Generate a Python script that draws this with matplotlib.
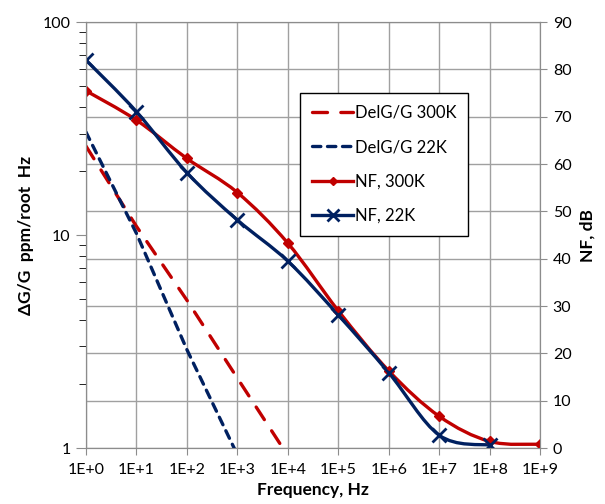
import numpy as np
import matplotlib
matplotlib.use("Agg")
import matplotlib.pyplot as plt
from matplotlib.path import Path
from matplotlib.patches import PathPatch
from matplotlib.lines import Line2D

# ---- data ----
decades = [1e0, 1e1, 1e2, 1e3, 1e4, 1e5, 1e6, 1e7, 1e8, 1e9]
x_tick_labels = ["1E+0", "1E+1", "1E+2", "1E+3", "1E+4",
                 "1E+5", "1E+6", "1E+7", "1E+8", "1E+9"]

delg_300k_freq = [1e0, 1e1, 1e2, 1e3, 1e4]
delg_300k = [26.2, 11.0, 4.95, 2.13, 0.92]

delg_22k_freq = [1e0, 1e1, 1e2, 1e3]
delg_22k = [30.5, 10.2, 2.9, 0.93]

nf_300k_freq = [1e0, 1e1, 1e2, 1e3, 1e4, 1e5, 1e6, 1e7, 1e8, 1e9]
nf_300k = [75.5, 69.3, 61.2, 54.0, 43.3, 29.0, 16.3, 6.7, 1.4, 0.8]

nf_22k_freq = [1e0, 1e1, 1e2, 1e3, 1e4, 1e5, 1e6, 1e7, 1e8]
nf_22k = [82.0, 71.1, 58.2, 48.2, 39.5, 28.1, 15.9, 2.7, 0.6]

left_ticks = [1, 10, 100]
right_ticks = [0, 10, 20, 30, 40, 50, 60, 70, 80, 90]

RED = "#C00000"
BLUE = "#002060"
GRID = "#a0a0a0"
SPINE = "#8c8c8c"

plt.rcParams["font.family"] = ["Lato", "DejaVu Sans"]
plt.rcParams["font.size"] = 11


def smooth_path(freqs, values):
    # Excel-like smoothed line: Catmull-Rom style Bezier in log-frequency space
    pts = np.column_stack([np.log10(freqs), np.asarray(values, float)])
    n = len(pts)
    verts = [pts[0]]
    codes = [Path.MOVETO]
    for i in range(n - 1):
        p0 = pts[max(i - 1, 0)]
        p1 = pts[i]
        p2 = pts[i + 1]
        p3 = pts[min(i + 2, n - 1)]
        verts += [p1 + (p2 - p0) / 6, p2 - (p3 - p1) / 6, p2]
        codes += [Path.CURVE4] * 3
    verts = np.array(verts)
    verts[:, 0] = 10 ** verts[:, 0]
    return Path(verts, codes)


fig = plt.figure(figsize=(6.05, 5.04), dpi=100)
ax2 = fig.add_axes([0.142, 0.111, 0.751, 0.845])
ax = ax2.twinx()  # left log axis drawn on top (dashed lines)

# right axis: NF
ax2.set_xscale("log")
ax2.set_xlim(1e0, 1e9)
ax2.set_ylim(0, 90)
ax2.set_yticks(right_ticks)
ax2.yaxis.tick_right()
ax2.yaxis.set_label_position("right")
ax2.set_axisbelow(True)
ax2.grid(axis="y", color=GRID, lw=1.0)
for d in decades:
    ax2.axvline(d, color=GRID, lw=1.0, zorder=0.5)

for freqs, vals, col in [(nf_300k_freq, nf_300k, RED), (nf_22k_freq, nf_22k, BLUE)]:
    ax2.add_patch(PathPatch(smooth_path(freqs, vals), fill=False, edgecolor=col,
                            lw=2.4, capstyle="round", joinstyle="round", zorder=3))
ax2.plot(nf_300k_freq, nf_300k, ls="none", marker="D", ms=5, color=RED, zorder=4)
ax2.plot(nf_22k_freq, nf_22k, ls="none", marker="x", ms=10, mew=2, color=BLUE, zorder=4)

# left axis: DelG/G
ax.set_yscale("log")
ax.set_ylim(1, 100)
ax.set_xlim(1e0, 1e9)
ax.yaxis.tick_left()
ax.yaxis.set_label_position("left")
ax.set_yticks(left_ticks)
ax.set_yticklabels([str(t) for t in left_ticks])
ax.plot(delg_300k_freq, delg_300k, color=RED, lw=2.4, dashes=(4.5, 4), dash_capstyle="round")
ax.plot(delg_22k_freq, delg_22k, color=BLUE, lw=2.4, dashes=(2.5, 2), dash_capstyle="round")

ax2.set_xticks(decades)
ax2.set_xticklabels(x_tick_labels)
ax2.xaxis.set_minor_locator(matplotlib.ticker.NullLocator())

for a in (ax, ax2):
    for s in a.spines.values():
        s.set_color(SPINE)
    a.tick_params(colors=SPINE, labelcolor="black", labelsize=11.5)
ax.tick_params(axis="y", which="major", length=7, pad=4)
ax.tick_params(axis="y", which="minor", length=5)
ax2.tick_params(axis="y", length=5, pad=4)
ax2.tick_params(axis="x", length=5, pad=6)

ax.set_ylabel("\u0394G/G  ppm/root  Hz", fontweight="bold", fontsize=12.5, labelpad=6)
ax2.set_ylabel("NF, dB", fontweight="bold", fontsize=12.5, labelpad=6)
ax2.set_xlabel("Frequency, Hz", fontweight="bold", fontsize=12.5, labelpad=3)

handles = [
    Line2D([], [], color=RED, lw=2.4, dashes=(4.5, 4), dash_capstyle="round"),
    Line2D([], [], color=BLUE, lw=2.4, dashes=(2.5, 2), dash_capstyle="round"),
    Line2D([], [], color=RED, lw=2.4, marker="D", ms=4),
    Line2D([], [], color=BLUE, lw=2.4, marker="x", ms=8, mew=2),
]
labels = ["DelG/G 300K", "DelG/G 22K", "NF, 300K", "NF, 22K"]
leg = ax.legend(handles, labels, loc="upper left", bbox_to_anchor=(0.496, 0.815),
                bbox_transform=fig.transFigure, fancybox=False, framealpha=1,
                edgecolor="black", fontsize=12, handlelength=2.5, handletextpad=0.1,
                labelspacing=1.1, borderpad=0.7, borderaxespad=0)
leg.get_frame().set_linewidth(1.0)

fig.savefig("out.png", dpi=100)
